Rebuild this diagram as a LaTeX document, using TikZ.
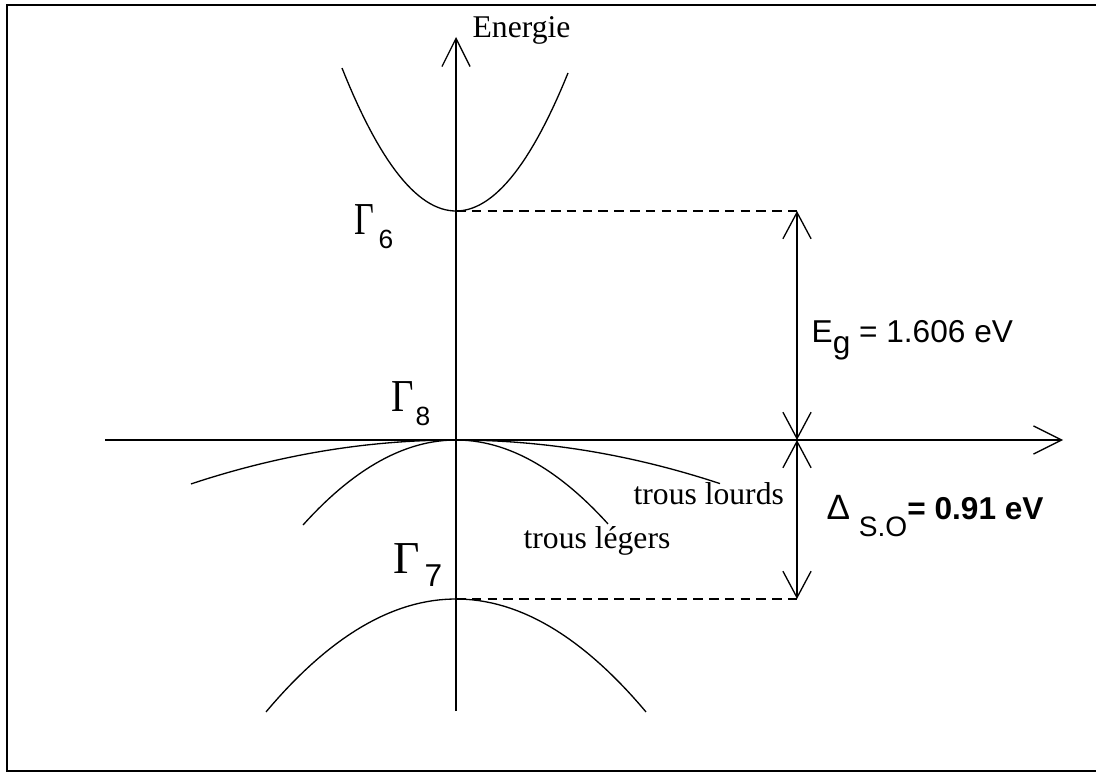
\documentclass[tikz,border=0pt]{standalone}
\usepackage{fontspec}
\setmainfont{Liberation Serif}
\newfontfamily\arial{Liberation Sans}
\usetikzlibrary{arrows.meta}

\begin{document}
\begin{tikzpicture}[x=0.02cm, y=-0.02cm, line width=0.75pt,
	every node/.style={inner sep=0pt},
	vee/.style={-{Straight Barb[length=16pt,width=16pt]}},
	dvee/.style={{Straight Barb[length=15pt,width=16pt]}-{Straight Barb[length=15pt,width=16pt]}},
	level/.style={dash pattern=on 5.5pt off 3.5pt, line width=0.7pt},
	txt/.style={font=\fontsize{18}{20}\selectfont, anchor=base west},
	gam/.style={font=\fontsize{26}{28}\selectfont, anchor=base west},
	idx/.style={font=\arial\fontsize{15}{17}\selectfont, anchor=base west},
	val/.style={font=\arial\fontsize{18}{20}\selectfont, anchor=base west}]
	\useasboundingbox (0,0) rectangle (1096,773);
	\draw[line width=1.4pt] (1096,5) -- (7,5) -- (7,771) -- (1096,771);
	\coordinate (top) at (456,37);
	\coordinate (bot) at (456,711);
	\coordinate (left) at (105,440);
	\coordinate (right) at (1063,440);
	\coordinate (G6) at (456,211);
	\coordinate (G7) at (456,599);
	\coordinate (A) at (797,211);
	\coordinate (B) at (797,440);
	\coordinate (C) at (797,599);
	\draw[vee] (bot) -- (top);
	\draw[vee] (left) -- (right);
	\draw[samples=60, domain=-114:112] plot ({456+\x},{211-0.011*(\x)*(\x)});
	\draw[samples=60, domain=-190:190] plot ({456+\x},{599+0.00313*(\x)*(\x)});
	\draw[samples=60, domain=-265:264] plot ({456+\x},{440+0.00063*(\x)*(\x)});
	\draw[samples=60, domain=-153:152] plot ({456+\x},{440+0.00363*(\x)*(\x)});
	\draw[level] (G6) -- (A);
	\draw[level] (G7) -- (C);
	\draw[dvee] (A) -- (B);
	\draw[dvee] (B) -- (C);
	\node[txt] (en) at (472,38) {Energie};
	\node[gam] (g6) at (354,235) {\scalebox{0.75}[1]{Γ}};
	\node[idx] (i6) at (378,249) {6};
	\node[gam] (g8) at (391,412) {\scalebox{0.85}[1]{Γ}};
	\node[idx] (i8) at (415,426) {8};
	\node[gam] (g7) at (393,574) {Γ};
	\node[idx, font=\arial\fontsize{18}{20}\selectfont] (i7) at (424,586) {7};
	\node[txt] (hh) at (633,505) {trous lourds};
	\node[txt] (lh) at (523,549) {trous légers};
	\node[val] (eg) at (811,343) {E\raisebox{-6pt}{g} = 1.606 eV};
	\node[val] (so) at (826,520) {{\fontsize{20}{22}\selectfont Δ}\ \raisebox{-9.5pt}{\fontsize{16}{18}\selectfont S.O}\bfseries= 0.91 eV};
\end{tikzpicture}
\end{document}
